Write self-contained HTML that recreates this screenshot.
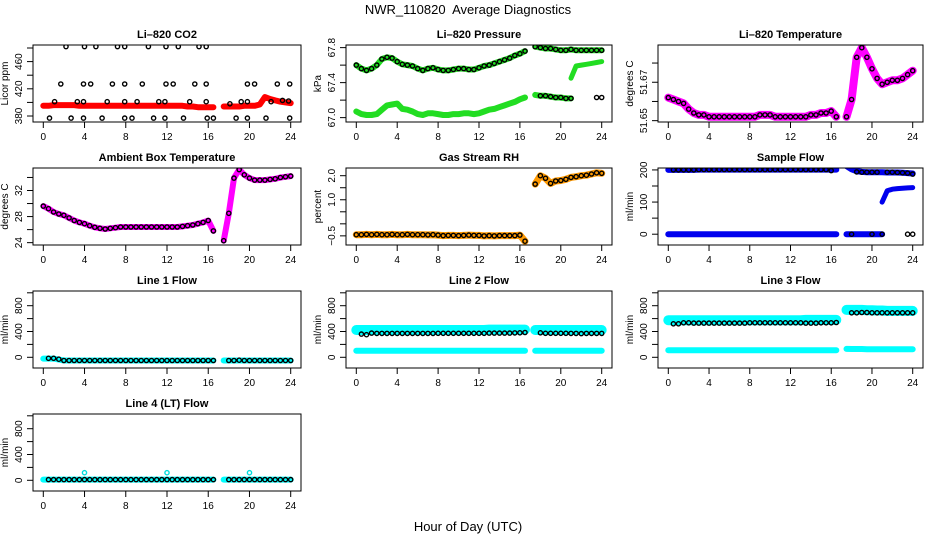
<!DOCTYPE html>
<html><head><meta charset="utf-8"><style>
html,body{margin:0;padding:0;background:#fff}
svg{display:block;font-family:"Liberation Sans",sans-serif}
</style></head><body>
<svg id="chart" width="936" height="540" viewBox="0 0 936 540" xmlns="http://www.w3.org/2000/svg">
<text x="468" y="14" text-anchor="middle" font-size="13" style="white-space:pre">NWR_110820  Average Diagnostics</text>
<text x="468" y="531" text-anchor="middle" font-size="13">Hour of Day (UTC)</text>
</svg>
<script>
// shared hour grid (0..24 by 0.5)
const hours = [0,0.5,1,1.5,2,2.5,3,3.5,4,4.5,5,5.5,6,6.5,7,7.5,8,8.5,9,9.5,10,10.5,11,11.5,12,12.5,13,13.5,14,14.5,15,15.5,16,16.5,17,17.5,18,18.5,19,19.5,20,20.5,21,21.5,22,22.5,23,23.5,24];
const xTicks = [0,4,8,12,16,20,24];

// Li-820 CO2
const co2Red = [395,395,396,396,396,396,396,395,395,395,395,395,395,395,395,395,395,395,395,395,395,395,395,395,395,395,395,395,394,394,393,393,393,393,null,394,394,394,394,395,395,395,397,408,405,403,401,400,399];
const co2BlackH = [2.2,4.0,5.1,7.2,7.9,10.2,11.9,13.1,15.1,15.8, 1.7,3.9,4.6,6.7,7.9,9.6,11.9,12.6,14.7,15.8,19.8,20.5,22.7,23.9, 1.1,3.3,3.9,6.2,7.9,9.1,11.2,11.8,14.2,15.8,18.1,19.2,19.8,22.1,23.2,23.8, 0.6,2.7,3.9,5.7,7.9,8.6,10.7,11.8,13.6,15.9,16.5,18.7,19.8,21.6,23.9];
const co2BlackV = [482,482,482,482,482,482,482,482,482,482, 427,427,427,427,427,427,427,427,427,427,427,427,427,427, 401,401,401,401,401,401,401,401,401,401,398,401,401,401,403,402, 377,377,377,377,377,377,377,377,377,377,377,377,377,377,377];

// Li-820 Pressure
const presUpper = [67.60,67.56,67.54,67.56,67.60,67.67,67.69,67.68,67.64,67.61,67.60,67.59,67.56,67.54,67.56,67.57,67.55,67.54,67.54,67.55,67.56,67.56,67.55,67.55,67.57,67.59,67.60,67.62,67.64,67.66,67.68,67.71,67.73,67.76,null,67.81,67.80,67.79,67.79,67.78,67.77,67.77,67.78,67.77,67.77,67.77,67.77,67.77,67.77];
const presLower = [67.07,67.04,67.03,67.03,67.04,67.09,67.14,67.15,67.16,67.10,67.09,67.07,67.04,67.03,67.05,67.05,67.04,67.03,67.03,67.04,67.04,67.05,67.05,67.04,67.05,67.07,67.09,67.10,67.12,67.14,67.16,67.18,67.21,67.23,null,67.26,67.25,67.25,67.24,67.23,67.23,67.22,67.22,null,null,null,null,null,null];
const presMid = [null,null,null,null,null,null,null,null,null,null,null,null,null,null,null,null,null,null,null,null,null,null,null,null,null,null,null,null,null,null,null,null,null,null,null,null,null,null,null,null,null,null,67.45,67.59,67.60,67.61,67.62,67.63,67.64];
const presBlackLow = [null,null,null,null,null,null,null,null,null,null,null,null,null,null,null,null,null,null,null,null,null,null,null,null,null,null,null,null,null,null,null,null,null,null,null,null,67.25,67.25,67.24,67.23,67.23,67.22,67.22,null,null,null,null,67.23,67.23];

// Li-820 Temperature
const tempLi = [51.662,51.661,51.660,51.659,51.656,51.654,51.653,51.653,51.652,51.652,51.652,51.652,51.652,51.652,51.652,51.652,51.652,51.652,51.653,51.653,51.653,51.652,51.652,51.652,51.652,51.652,51.652,51.652,51.653,51.653,51.654,51.654,51.655,51.652,null,51.652,51.661,51.683,51.688,51.683,51.677,51.672,51.669,51.670,51.671,51.671,51.672,51.674,51.676];

// Ambient Box Temperature
const ambTemp = [29.6,29.2,28.7,28.4,28.2,27.8,27.4,27.1,26.9,26.6,26.35,26.2,26.1,26.2,26.3,26.4,26.4,26.4,26.4,26.4,26.4,26.4,26.4,26.4,26.4,26.4,26.4,26.5,26.6,26.7,26.9,27.1,27.4,25.8,null,24.3,28.5,33.9,35.2,34.4,33.9,33.6,33.6,33.6,33.7,33.8,34.0,34.1,34.2];

// Gas Stream RH
const rhVals = [-0.45,-0.45,-0.44,-0.45,-0.44,-0.45,-0.45,-0.44,-0.45,-0.45,-0.44,-0.45,-0.45,-0.45,-0.46,-0.45,-0.47,-0.49,-0.48,-0.48,-0.49,-0.48,-0.47,-0.48,-0.48,-0.50,-0.49,-0.50,-0.49,-0.49,-0.49,-0.49,-0.47,-0.72,null,1.65,2.0,1.89,1.68,1.78,1.8,1.85,1.93,1.96,2.0,2.02,2.07,2.12,2.1];

// Sample Flow
const sfUpper = [200,200,200,200,200,200,201,201,201,201,201,201,201,201,201,201,201,201,201,201,201,201,201,201,201,201,201,201,201,201,201,201,201,201,null,212,202,196,194,193,193,193,193,192,192,192,191,190,189];
const sfZero = [0,0,0,0,0,0,0,0,0,0,0,0,0,0,0,0,0,0,0,0,0,0,0,0,0,0,0,0,0,0,0,0,0,0,null,0,0,0,0,0,0,0,0,null,null,null,null,null,null];
const sfMid = [null,null,null,null,null,null,null,null,null,null,null,null,null,null,null,null,null,null,null,null,null,null,null,null,null,null,null,null,null,null,null,null,null,null,null,null,null,null,null,null,null,null,100,135,140,142,143,144,145];
const sfBlackUp = [null,200,200,200,200,200,201,201,201,201,201,201,201,201,201,201,201,201,201,201,201,201,201,201,201,201,201,201,201,201,201,201,198,null,null,null,null,194,193,193,193,193,null,193,193,192,191,190,187];
const sfBlackZero = [null,null,null,null,null,null,null,null,null,null,null,null,null,null,null,null,null,null,null,null,null,null,null,null,null,null,null,null,null,null,null,null,null,null,null,null,0,null,null,null,0,null,0,null,null,null,null,0,0];

// Line flows
const l1Cyan = [-20,-20,-20,-35,-50,-50,-50,-50,-50,-50,-50,-50,-50,-50,-50,-50,-50,-50,-50,-50,-50,-50,-50,-50,-50,-50,-50,-50,-50,-50,-50,-50,-50,-50,null,-50,-50,-50,-50,-50,-50,-50,-50,-50,-50,-50,-50,-50,-50];
const l1Black = [null,-15,-15,-30,-50,-50,-50,-50,-50,-50,-50,-50,-50,-50,-50,-50,-50,-50,-50,-50,-50,-50,-50,-50,-50,-50,-50,-50,-50,-50,-50,-50,-50,-50,null,null,-50,-50,-45,-50,-50,-50,-50,-50,-50,-50,-50,-50,-50];
const l2CyanUp = [423,423,423,423,423,423,423,423,423,423,423,423,423,423,423,423,423,423,423,423,423,423,423,423,423,423,430,430,430,430,430,430,430,430,null,423,423,423,423,423,423,423,423,423,423,423,423,423,423];
const l2CyanLow = [103,103,103,103,103,103,103,103,103,103,103,103,103,103,103,103,103,103,103,103,103,103,103,103,103,103,103,103,103,103,103,103,103,103,null,103,103,103,103,103,103,103,103,103,103,103,103,103,103];
const l2Black = [null,360,350,375,370,370,370,370,370,370,370,370,370,370,370,370,372,372,372,372,372,372,372,372,372,372,375,375,375,375,375,378,380,385,null,null,380,372,372,372,372,372,370,370,368,370,370,370,370];
const l3CyanUp = [575,575,575,575,575,575,575,575,575,575,575,575,575,575,575,575,575,575,575,575,575,575,575,575,575,575,575,580,580,580,580,580,580,580,null,735,735,735,735,730,730,725,725,720,720,720,720,720,720];
const l3CyanLow = [110,110,110,110,110,110,110,110,110,110,110,110,110,110,110,110,110,110,110,110,110,110,110,110,110,110,110,110,110,110,110,110,110,110,null,130,128,128,128,125,125,125,125,125,125,125,125,125,125];
const l3Black = [null,520,520,535,535,530,530,530,530,530,530,530,530,530,530,530,535,535,535,535,535,535,535,535,535,535,535,530,530,530,535,535,535,540,null,null,690,690,695,695,690,690,690,690,690,690,690,690,690];
const l4Cyan = [10,10,10,10,10,10,10,10,10,10,10,10,10,10,10,10,10,10,10,10,10,10,10,10,10,10,10,10,10,10,10,10,10,10,null,10,10,10,10,10,10,10,10,10,10,10,10,10,10];
const l4Black = [null,10,10,10,10,10,10,10,10,10,10,10,10,10,10,10,10,10,10,10,10,10,10,10,10,10,10,10,10,10,10,10,10,10,null,null,10,10,10,10,10,10,10,10,10,10,10,10,10];
const l4OutH = [4,12,20];
const l4OutV = [118,118,118];

const colL=[33,346,658], colR=[301,612,923], rowT=[45,168,291,414], PH=77;
const panels = [
 {id:'co2',c:0,r:0,title:'Li\u2013820 CO2',yt:'Licor ppm',lo:371.2,hi:484.4,ticks:[380,400,420,440,460,480],labs:['380','','420','','460',''],
  bands:[[co2Red,'#ff0000',6]],dots:[],pts:[[co2BlackH,co2BlackV,'#000']]},
 {id:'pressure',c:1,r:0,title:'Li\u2013820 Pressure',yt:'kPa',lo:66.95,hi:67.83,ticks:[67.0,67.2,67.4,67.6,67.8],labs:['67.0','','67.4','','67.8'],
  bands:[[presUpper,'#22dd22',6],[presLower,'#22dd22',6],[presMid,'#22dd22',5]],dots:[presUpper,presBlackLow],pts:[]},
 {id:'li-temperature',c:2,r:0,title:'Li\u2013820 Temperature',yt:'degrees C',lo:51.6493,hi:51.6894,ticks:[51.65,51.66,51.67,51.68],labs:['51.65','','51.67',''],
  bands:[[tempLi,'#ff00ff',8]],dots:[tempLi],pts:[]},
 {id:'ambient-temperature',c:0,r:1,title:'Ambient Box Temperature',yt:'degrees C',lo:23.64,hi:35.45,ticks:[24,26,28,30,32,34],labs:['24','','28','','32',''],
  bands:[[ambTemp,'#ff00ff',6]],dots:[ambTemp],pts:[]},
 {id:'gas-rh',c:1,r:1,title:'Gas Stream RH',yt:'percent',lo:-0.88,hi:2.32,ticks:[-0.5,0,0.5,1,1.5,2],labs:['\u22120.5','','','1.0','','2.0'],
  bands:[[rhVals,'#ff9900',7]],dots:[rhVals],pts:[]},
 {id:'sample-flow',c:2,r:1,title:'Sample Flow',yt:'ml/min',lo:-33.6,hi:206,ticks:[0,50,100,150,200],labs:['0','','100','','200'],
  bands:[[sfUpper,'#0000ee',6],[sfZero,'#0000ee',6],[sfMid,'#0000ee',5]],dots:[sfBlackUp,sfBlackZero],pts:[]},
 {id:'line1-flow',c:0,r:2,title:'Line 1 Flow',yt:'ml/min',lo:-166,hi:1028,ticks:[0,200,400,600,800,1000],labs:['0','','400','','800',''],
  bands:[[l1Cyan,'#00ffff',6]],dots:[l1Black],pts:[]},
 {id:'line2-flow',c:1,r:2,title:'Line 2 Flow',yt:'ml/min',lo:-166,hi:1028,ticks:[0,200,400,600,800,1000],labs:['0','','400','','800',''],
  bands:[[l2CyanUp,'#00ffff',10],[l2CyanLow,'#00ffff',6]],dots:[l2Black],pts:[]},
 {id:'line3-flow',c:2,r:2,title:'Line 3 Flow',yt:'ml/min',lo:-166,hi:1028,ticks:[0,200,400,600,800,1000],labs:['0','','400','','800',''],
  bands:[[l3CyanUp,'#00ffff',10],[l3CyanLow,'#00ffff',6]],dots:[l3Black],pts:[]},
 {id:'line4-flow',c:0,r:3,title:'Line 4 (LT) Flow',yt:'ml/min',lo:-166,hi:1028,ticks:[0,200,400,600,800,1000],labs:['0','','400','','800',''],
  bands:[[l4Cyan,'#00ffff',6]],dots:[l4Black],pts:[[l4OutH,l4OutV,'#00dddd']]}
];

const NS='http://www.w3.org/2000/svg';
const svg=document.getElementById('chart');
function mk(tag,attrs,parent){const e=document.createElementNS(NS,tag);for(const k in attrs)e.setAttribute(k,attrs[k]);(parent||svg).appendChild(e);return e;}

panels.forEach(p=>{
  const L=colL[p.c],R=colR[p.c],T=rowT[p.r],B=T+PH;
  const xs=h=>L+10.3+h*(R-L-20.6)/24;
  const ys=v=>B-(v-p.lo)/(p.hi-p.lo)*PH;
  const g=mk('g',{});
  
  
  const clipId='clip-'+p.id;
  const cp=mk('clipPath',{id:clipId},g);
  mk('rect',{x:L,y:T,width:R-L,height:PH},cp);
  const plot=mk('g',{'clip-path':'url(#'+clipId+')'},g);
  
  
  p.bands.forEach((b,bi)=>{
    const [vals,col,w]=b;let seg=[];
    const flush=()=>{if(seg.length){const pl=mk('polyline',{points:seg.join(' '),fill:'none',stroke:col,'stroke-width':w,'stroke-linecap':'round','stroke-linejoin':'round'},plot);
      
      }seg=[];};
    vals.forEach((v,i)=>{if(v===null){flush();}else seg.push(xs(hours[i]).toFixed(1)+','+ys(v).toFixed(1));});
    flush();
  });
  p.dots.forEach(vals=>{
    vals.forEach((v,i)=>{if(v===null)return;
      const c=mk('circle',{cx:xs(hours[i]).toFixed(1),cy:ys(v).toFixed(1),r:2.1,fill:'none',stroke:'#000','stroke-width':1.4},plot);
      
      });
  });
  p.pts.forEach(([hh,vv,col])=>{
    hh.forEach((h,i)=>{
      const c=mk('circle',{cx:xs(h).toFixed(1),cy:ys(vv[i]).toFixed(1),r:2.1,fill:'none',stroke:col,'stroke-width':1.4},plot);
      
      });
  });
  const box=mk('rect',{x:L,y:T,width:R-L,height:PH,fill:'none',stroke:'#000','stroke-width':1},g);
  
  
  const ttl=mk('text',{x:(L+R)/2,y:T-7,'text-anchor':'middle','font-size':11,'font-weight':'bold'},g);
  ttl.textContent=p.title;
  
  
  xTicks.forEach(t=>{
    mk('line',{x1:xs(t),x2:xs(t),y1:B,y2:B+6,stroke:'#000'},g);
    const tx=mk('text',{x:xs(t),y:B+18,'text-anchor':'middle','font-size':10},g);
    tx.textContent=t;
    
    
  });
  p.ticks.forEach((t,i)=>{
    const y=ys(t); if(y<T-1||y>B+1)return;
    mk('line',{x1:L-6,x2:L,y1:y,y2:y,stroke:'#000'},g);
    if(p.labs[i]){const lx=L-11;
      const tx=mk('text',{x:lx,y:y,'text-anchor':'middle','font-size':10,transform:'rotate(-90 '+lx+' '+y+')'},g);
      tx.textContent=p.labs[i];
      
      }
  });
  const yx=L-25,yy=(T+B)/2;
  const yt=mk('text',{x:yx,y:yy,'text-anchor':'middle','font-size':10,transform:'rotate(-90 '+yx+' '+yy+')'},g);
  yt.textContent=p.yt;
  
  
});
</script>
</body></html>
